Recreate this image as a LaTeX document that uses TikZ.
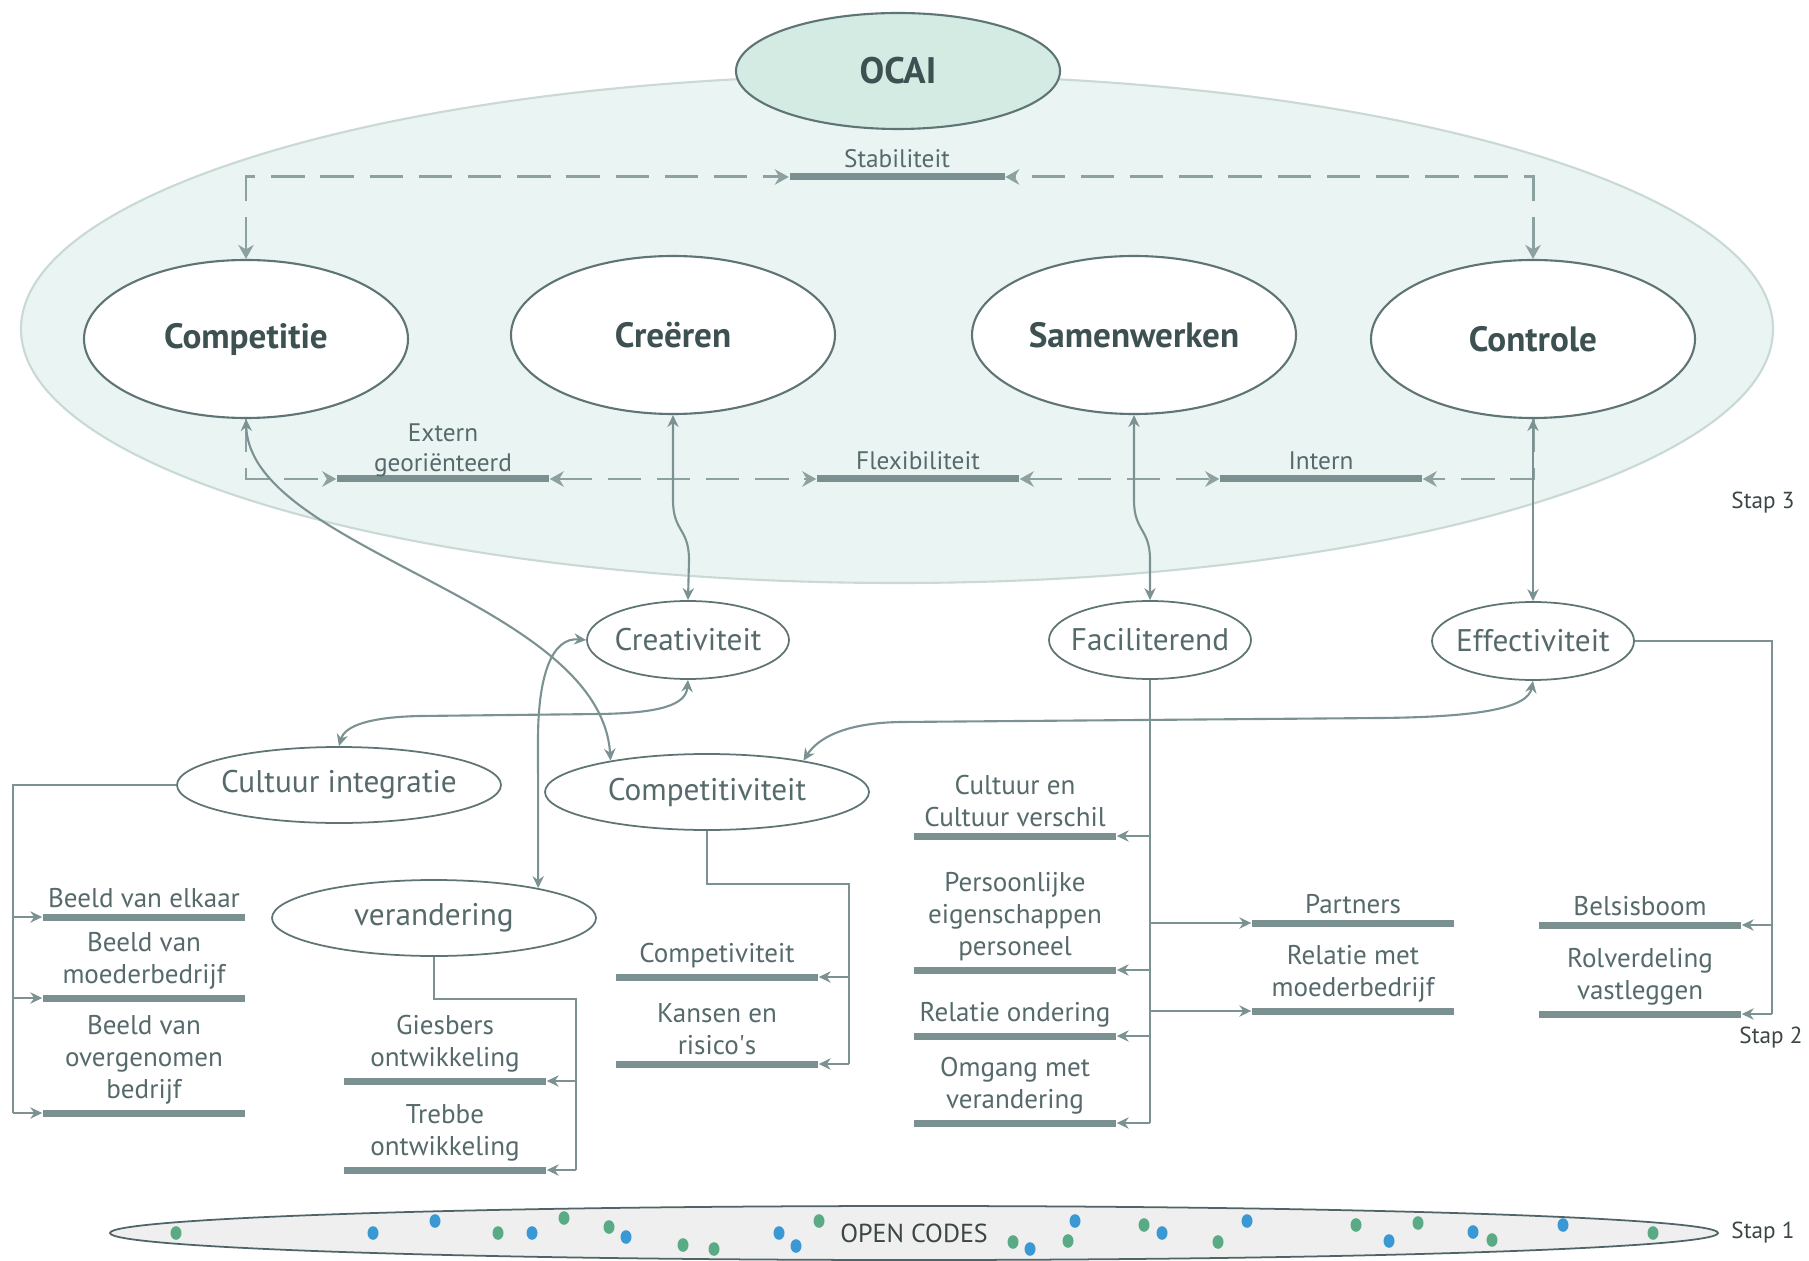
\documentclass[tikz,border=0pt]{standalone}
\usepackage{fontspec}
\setmainfont{PT Sans}
\usetikzlibrary{shapes.geometric,arrows.meta}

\definecolor{areafill}{HTML}{EAF5F3}
\definecolor{areadraw}{HTML}{C9D9D6}
\definecolor{ocaifill}{HTML}{D4EBE3}
\definecolor{elldraw}{HTML}{5F7575}
\definecolor{linec}{HTML}{7C9292}
\definecolor{dashc}{HTML}{8DA1A1}
\definecolor{barc}{HTML}{7B9090}
\definecolor{txtc}{HTML}{566A6B}
\definecolor{titlec}{HTML}{3E5152}
\definecolor{stapc}{HTML}{3C4646}
\definecolor{codefill}{HTML}{EEEFEE}
\definecolor{codedraw}{HTML}{4F6466}
\definecolor{dotg}{HTML}{5AAA86}
\definecolor{dotb}{HTML}{3A98D4}

% text inside an ellipse must not widen the shape
\newcommand{\etxt}[1]{\makebox[0pt]{#1}}

\tikzset{
  bigell/.style={ellipse, draw=elldraw, fill=white, line width=0.6pt,
    minimum width=32.4mm, minimum height=15.8mm, inner sep=0pt,
    font=\fontsize{10}{12}\selectfont\bfseries, text=titlec},
  midell/.style={ellipse, draw=elldraw, fill=white, line width=0.5pt,
    minimum width=20.2mm, minimum height=7.8mm, inner sep=0pt,
    font=\fontsize{8.9}{11}\selectfont, text=txtc},
  wideell/.style={midell, minimum width=32.4mm, minimum height=7.6mm},
  bar/.style={rectangle, fill=barc, minimum width=20.2mm, minimum height=0.7mm, inner sep=0pt},
  lbl/.style={font=\fontsize{7.7}{9.1}\selectfont, text=txtc, align=center,
    inner sep=1.2pt, anchor=south},
  slbl/.style={lbl, font=\fontsize{7.2}{8.6}\selectfont},
  stap/.style={font=\fontsize{6.6}{8}\selectfont, text=stapc, inner sep=0pt},
  conn/.style={draw=linec, line width=0.6pt},
  tipb/.style={-{Stealth[length=3.4pt,width=3.2pt]}},
  tipbb/.style={{Stealth[length=3.4pt,width=3.2pt]}-{Stealth[length=3.4pt,width=3.2pt]}},
  dline/.style={draw=dashc, line width=0.85pt, dash pattern=on 9.5pt off 4.5pt},
  dtip/.style={-{Stealth[length=4pt,width=4.4pt]}},
  dtipbb/.style={{Stealth[length=4pt,width=4.4pt]}-{Stealth[length=4pt,width=4.4pt]}},
}

\begin{document}
\begin{tikzpicture}[x=0.1mm, y=-0.1mm]
\fill[white] (0,0) rectangle (1809,1261);
\useasboundingbox (0,0) rectangle (1809,1261);

% ---------- step 3: the OCAI field ----------
\node[ellipse, draw=areadraw, fill=areafill, line width=0.6pt,
      minimum width=175.2mm, minimum height=50.8mm, inner sep=0pt] (area) at (897,329) {};
\node[ellipse, draw=elldraw, fill=ocaifill, line width=0.6pt,
      minimum width=32.4mm, minimum height=11.6mm, inner sep=0pt,
      font=\fontsize{10.5}{12}\selectfont\bfseries, text=titlec] (ocai) at (898,71) {\etxt{OCAI}};

\node[bigell] (cpt) at (246,339) {\etxt{Competitie}};
\node[bigell] (cre) at (673,335) {\etxt{Creëren}};
\node[bigell] (sam) at (1134,335) {\etxt{Samenwerken}};
\node[bigell] (ctl) at (1533,339) {\etxt{Controle}};

% axis bars
\node[bar, minimum width=21.5mm] (stab) at (897,177) {};
\node[bar, minimum width=21.2mm] (ext) at (443,479) {};
\node[bar] (flx) at (918,479) {};
\node[bar] (itn) at (1321,479) {};
\node[slbl] (lstab) at (stab.north) {Stabiliteit};
\node[slbl, inner sep=0pt] (lext) at ([yshift=-0.3mm]ext.north) {Extern\\georiënteerd};
\node[slbl] (lflx) at (flx.north) {Flexibiliteit};
\node[slbl] (litn) at (itn.north) {Intern};

% dashed axes
\draw[dline, dtipbb] (cpt.north) |- (stab.west);
\draw[dline, dtipbb] (ctl.north) |- (stab.east);
\draw[dline, dtip] (cpt.south) |- (ext.west);
\draw[dline, dtipbb] (ext.east) -- (flx.west);
\draw[dline, dtipbb] (flx.east) -- (itn.west);
\draw[dline, dtip] (ctl.south) |- (itn.east);

% ---------- step 2 ----------
\node[midell] (cra) at (688,640) {\etxt{Creativiteit}};
\node[midell] (fac) at (1150,640) {\etxt{Faciliterend}};
\node[midell] (eff) at (1533,641) {\etxt{Effectiviteit}};
\node[wideell] (ci) at (339,785) {\etxt{Cultuur integratie}};
\node[wideell] (cpv) at (707,792) {\etxt{Competitiviteit}};
\node[wideell] (ver) at (434,918) {\etxt{verandering}};

% links between the culture types and their themes
\draw[conn, tipbb] (cre.south) -- (673,500) .. controls (673,532) and (689,528) .. (689,560) -- (cra.north);
\draw[conn, tipbb] (sam.south) -- (1134,500) .. controls (1134,532) and (1150,528) .. (1150,560) -- (fac.north);
\draw[conn, tipbb] (ctl.south) -- (eff.north);
\draw[conn, tipbb] (cpt.south) .. controls (250,550) and (600,600) .. (cpv.162);
\draw[conn, tipbb] (cra.south) .. controls (686,705) and (660,713) .. (600,714)
   -- (420,716) .. controls (372,717) and (345,725) .. (ci.north);
\draw[conn, tipbb] (cra.west) .. controls (552,637) and (538,675) .. (538,740) -- (ver.16);
\draw[conn, tipbb] (eff.south) .. controls (1528,708) and (1480,717) .. (1380,718)
   -- (900,722) .. controls (845,723) and (818,738) .. (cpv.18);

% theme bars
\node[bar] (ci1) at (144,917) {};
\node[bar] (ci2) at (144,998) {};
\node[bar] (ci3) at (144,1113) {};
\node[bar] (ve1) at (445,1081) {};
\node[bar] (ve2) at (445,1170) {};
\node[bar] (cp1) at (717,977) {};
\node[bar] (cp2) at (717,1064) {};
\node[bar] (fa1) at (1015,836) {};
\node[bar] (fa2) at (1015,970) {};
\node[bar] (fa3) at (1015,1036) {};
\node[bar] (fa4) at (1015,1123) {};
\node[bar] (fr1) at (1353,923) {};
\node[bar] (fr2) at (1353,1011) {};
\node[bar] (ef1) at (1640,925) {};
\node[bar] (ef2) at (1640,1014) {};

\node[lbl] (tci1) at (ci1.north) {Beeld van elkaar};
\node[lbl] (tci2) at (ci2.north) {Beeld van\\moederbedrijf};
\node[lbl] (tci3) at (ci3.north) {Beeld van\\overgenomen\\bedrijf};
\node[lbl] (tve1) at (ve1.north) {Giesbers\\ontwikkeling};
\node[lbl] (tve2) at (ve2.north) {Trebbe\\ontwikkeling};
\node[lbl] (tcp1) at (cp1.north) {Competiviteit};
\node[lbl] (tcp2) at (cp2.north) {Kansen en\\risico\textquotesingle s};
\node[lbl] (tfa1) at (fa1.north) {Cultuur en\\Cultuur verschil};
\node[lbl] (tfa2) at (fa2.north) {Persoonlijke\\eigenschappen\\personeel};
\node[lbl] (tfa3) at (fa3.north) {Relatie ondering};
\node[lbl] (tfa4) at (fa4.north) {Omgang met\\verandering};
\node[lbl] (tfr1) at (fr1.north) {Partners};
\node[lbl] (tfr2) at (fr2.north) {Relatie met\\moederbedrijf};
\node[lbl] (tef1) at (ef1.north) {Belsisboom};
\node[lbl] (tef2) at (ef2.north) {Rolverdeling\\vastleggen};

% trunk lines of the theme trees
\coordinate (ciT) at (13,1113);
\draw[conn] (ci.west) -| (ciT);
\foreach \b in {ci1,ci2,ci3} \draw[conn, tipb] (ciT |- \b.west) -- (\b.west);

\coordinate (veJ) at (576,999);
\coordinate (veT) at (576,1170);
\draw[conn] (ver.south) |- (veJ) -- (veT);
\foreach \b in {ve1,ve2} \draw[conn, tipb] (veT |- \b.east) -- (\b.east);

\coordinate (cpJ) at (849,884);
\coordinate (cpT) at (849,1064);
\draw[conn] (cpv.south) |- (cpJ) -- (cpT);
\foreach \b in {cp1,cp2} \draw[conn, tipb] (cpT |- \b.east) -- (\b.east);

\coordinate (faT) at (1150,1123);
\draw[conn] (fac.south) -- (faT);
\foreach \b in {fa1,fa2,fa3,fa4} \draw[conn, tipb] (faT |- \b.east) -- (\b.east);
\foreach \b in {fr1,fr2} \draw[conn, tipb] (faT |- \b.west) -- (\b.west);

\coordinate (efT) at (1772,1014);
\draw[conn] (eff.east) -| (efT);
\foreach \b in {ef1,ef2} \draw[conn, tipb] (efT |- \b.east) -- (\b.east);

% ---------- step 1: open codes ----------
\node[ellipse, draw=codedraw, fill=codefill, line width=0.5pt,
      minimum width=160.8mm, minimum height=5.4mm, inner sep=0pt] (codes) at (914,1233) {};
\foreach \x/\y in {176/1233, 498/1233, 564/1218, 609/1227, 683/1245, 714/1249,
                   819/1221, 1013/1242, 1068/1241, 1144/1225, 1218/1242, 1356/1225,
                   1418/1223, 1492/1240, 1653/1233}
  \fill[dotg] (\x,\y) ellipse [x radius=0.55mm, y radius=0.68mm];
\foreach \x/\y in {373/1233, 435/1221, 532/1233, 626/1237, 779/1233, 796/1246,
                   1030/1249, 1075/1221, 1162/1233, 1247/1221, 1389/1241, 1473/1232,
                   1563/1225}
  \fill[dotb] (\x,\y) ellipse [x radius=0.55mm, y radius=0.68mm];
\node[font=\fontsize{7.4}{9}\selectfont, text=stapc, inner sep=1pt] (codet) at (codes.center) {OPEN CODES};

% step labels
\node[stap] (s3) at (1763,503) {Stap 3};
\node[stap] (s2) at (1771,1038) {Stap 2};
\node[stap] (s1) at (1763,1233) {Stap 1};
\end{tikzpicture}
\end{document}
